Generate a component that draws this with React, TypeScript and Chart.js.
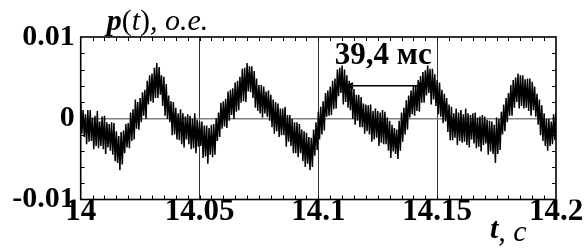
import React, { useEffect, useRef } from "react";
import { Chart, registerables } from "chart.js";

Chart.register(...registerables);

// ---- data ----
const T_START = 14; // s
const T_STEP = 0.001; // s, spacing of the whole-ms samples
// p(t) at whole milliseconds 14.000 .. 14.200 (upper noise swings), 1e-3 o.e.
const P_WHOLE_MS = [
  2.0, 1.0, 0.5, 1.0, 1.0, 0.1, 0.3, 0.9, -0.4, 0.2,
  0.3, -0.5, -0.7, -0.5, -0.6, -1.6, -2.2, -1.7, -1.5, -0.7,
  -0.6, 0.7, 1.1, 2.3, 2.0, 2.5, 3.2, 3.5, 4.6, 5.3,
  5.5, 6.2, 6.8, 6.3, 5.3, 5.1, 4.2, 2.8, 2.1, 2.0,
  1.3, 0.6, 1.1, 0.6, 0.2, 0.5, 0.3, -0.1, 0.6, -0.2,
  -0.4, -0.4, -0.9, -0.9, -1.2, -0.8, -0.7, 0.0, 0.7, 1.9,
  2.1, 2.4, 3.3, 3.5, 3.7, 4.4, 4.6, 5.1, 6.1, 6.2,
  6.8, 6.4, 6.4, 5.8, 4.9, 4.1, 4.1, 3.9, 3.3, 3.4,
  2.9, 2.3, 2.0, 1.8, 1.2, 1.2, 1.4, 0.4, 0.4, -0.1,
  -0.5, -0.5, -0.7, -1.4, -1.6, -1.8, -2.3, -2.4, -1.4, -0.5,
  0.8, 1.4, 2.1, 3.1, 3.4, 3.9, 4.6, 4.9, 6.0, 6.2,
  6.5, 6.0, 5.3, 4.6, 4.2, 3.6, 2.9, 2.9, 2.6, 1.8,
  1.7, 1.6, 1.7, 0.9, 1.2, 0.9, 0.7, 1.0, 0.8, 0.1,
  -0.3, -0.8, -1.2, -1.4, -0.3, 0.7, 1.3, 2.2, 2.8, 3.4,
  4.0, 4.1, 4.7, 5.2, 5.7, 5.9, 6.5, 6.1, 6.1, 5.4,
  4.7, 4.4, 3.5, 3.0, 2.5, 1.7, 1.4, 0.6, 1.2, 0.7,
  1.0, 0.5, 1.2, 0.6, 0.4, 0.6, 0.7, 0.1, 0.2, 0.4,
  0.2, -0.2, -0.3, -0.4, -0.8, 0.1, -0.1, 0.8, 1.7, 2.5,
  3.1, 4.1, 4.7, 5.0, 5.5, 5.3, 5.3, 4.8, 4.9, 4.9,
  4.5, 3.9, 3.0, 2.3, 1.6, 0.6, -0.1, -0.1, -0.4, 0.5, 0.8,
];
// p(t) at the half milliseconds 14.0005 .. 14.1995 (lower noise swings), 1e-3 o.e.
const P_HALF_MS = [
  -1.9, -2.3, -3.2, -2.9, -2.8, -3.8, -3.4, -3.7, -3.4, -3.8,
  -4.4, -3.6, -4.0, -4.5, -5.3, -5.5, -6.4, -5.7, -4.3, -3.6,
  -3.7, -2.8, -2.6, -1.3, -1.4, -0.5, 0.3, -0.1, 1.7, 2.1,
  1.9, 2.5, 2.5, 2.9, 1.5, 0.3, -0.1, -0.5, -2.1, -2.0,
  -2.6, -2.7, -3.2, -3.6, -2.6, -3.2, -3.8, -3.7, -4.3, -3.5,
  -3.4, -4.9, -4.7, -5.6, -4.5, -4.8, -4.5, -2.8, -2.3, -1.3,
  -1.0, -1.2, -0.3, 0.4, -0.1, 0.8, 1.0, 1.9, 2.1, 2.0,
  3.3, 3.2, 2.5, 1.3, 0.9, 0.6, 0.1, 0.6, 0.2, -0.3,
  -1.1, -1.9, -1.6, -2.3, -2.1, -2.1, -3.5, -2.9, -3.4, -4.3,
  -4.3, -4.8, -4.3, -5.3, -6.0, -5.6, -6.4, -6.0, -4.6, -3.9,
  -2.6, -2.0, -1.5, 0.2, 0.3, 0.4, 1.1, 1.2, 2.7, 3.1,
  1.7, 2.0, 1.3, 1.0, -0.1, -0.8, -0.3, -1.1, -1.1, -1.9,
  -1.6, -2.0, -2.9, -2.6, -2.4, -3.4, -3.0, -3.2, -3.2, -4.0,
  -4.9, -4.1, -4.4, -5.0, -4.0, -2.9, -2.0, -1.4, 0.1, 0.5,
  0.3, 0.9, 0.8, 1.9, 1.9, 2.8, 3.1, 1.7, 2.3, 1.5,
  0.5, 0.2, -0.6, -0.4, -1.7, -2.7, -2.7, -2.4, -3.3, -2.8,
  -3.0, -2.9, -3.3, -3.6, -2.6, -3.1, -3.7, -3.5, -4.1, -3.3,
  -3.1, -4.5, -4.1, -4.4, -5.5, -4.4, -3.9, -2.0, -1.6, -0.5,
  0.3, 0.3, 1.3, 2.0, 1.2, 1.5, 1.2, 1.3, 0.9, 0.3,
  1.0, 0.2, -0.8, -2.1, -2.8, -3.4, -4.0, -3.4, -3.2, -2.7,
];
const P_UNIT = 1e-3;

const X_TICKS = [14, 14.05, 14.1, 14.15, 14.2];
const Y_TICKS = [-0.01, 0, 0.01];
const X_MIN = 14;
const X_MAX = 14.2;
const Y_MIN = -0.01;
const Y_MAX = 0.01;
const X_MINOR = 0.005;
const Y_MINOR = 0.002;

// period annotation
const PERIOD_TEXT = "39,4 мс";
const PERIOD_FROM = 14.11;
const PERIOD_TO = 14.147;
const PERIOD_LEVEL = 0.004;
const PERIOD_TEXT_T = 14.1273;
const PERIOD_TEXT_P = 0.0067;

const SERIF = "'Liberation Serif', 'Times New Roman', serif";

const decor = {
  id: "decor",
  afterDraw(chart: any) {
    const { ctx, chartArea: a } = chart;
    const xs = chart.scales.x;
    const ys = chart.scales.y;
    ctx.save();
    ctx.strokeStyle = "#000";
    ctx.fillStyle = "#000";
    // minor ticks (inside)
    ctx.lineWidth = 1;
    ctx.beginPath();
    const nx = Math.round((X_MAX - X_MIN) / X_MINOR);
    for (let k = 1; k < nx; k++) {
      const px = Math.round(xs.getPixelForValue(X_MIN + k * X_MINOR)) + 0.5;
      ctx.moveTo(px, a.top);
      ctx.lineTo(px, a.top + 4);
      ctx.moveTo(px, a.bottom);
      ctx.lineTo(px, a.bottom - 4);
    }
    const ny = Math.round((Y_MAX - Y_MIN) / Y_MINOR);
    for (let k = 1; k < ny; k++) {
      const py = Math.round(ys.getPixelForValue(Y_MIN + k * Y_MINOR)) + 0.5;
      ctx.moveTo(a.left, py);
      ctx.lineTo(a.left + 4, py);
      ctx.moveTo(a.right, py);
      ctx.lineTo(a.right - 4, py);
    }
    ctx.stroke();
    // frame
    ctx.lineWidth = 1.6;
    ctx.strokeRect(a.left, a.top, a.right - a.left, a.bottom - a.top);

    // period arrow
    const x1 = xs.getPixelForValue(PERIOD_FROM);
    const x2 = xs.getPixelForValue(PERIOD_TO);
    const ya = ys.getPixelForValue(PERIOD_LEVEL);
    ctx.lineWidth = 1.5;
    ctx.beginPath();
    ctx.moveTo(x1 + 6, ya);
    ctx.lineTo(x2 - 6, ya);
    ctx.stroke();
    ctx.beginPath();
    ctx.moveTo(x1, ya);
    ctx.lineTo(x1 + 11, ya - 3.5);
    ctx.lineTo(x1 + 11, ya + 3.5);
    ctx.closePath();
    ctx.moveTo(x2, ya);
    ctx.lineTo(x2 - 11, ya - 3.5);
    ctx.lineTo(x2 - 11, ya + 3.5);
    ctx.closePath();
    ctx.fill();

    ctx.textBaseline = "alphabetic";
    ctx.textAlign = "center";
    ctx.font = `bold 31px ${SERIF}`;
    ctx.fillText(
      PERIOD_TEXT,
      xs.getPixelForValue(PERIOD_TEXT_T),
      ys.getPixelForValue(PERIOD_TEXT_P)
    );

    // y axis title
    ctx.textAlign = "left";
    let x = a.left + 26;
    const by = a.top - 7;
    const yParts: [string, string][] = [
      ["bold italic 30px", "p"],
      ["30px", "("],
      ["italic 30px", "t"],
      ["30px", ")"],
      ["italic 30px", ", о.е."],
    ];
    for (const [f, s] of yParts) {
      ctx.font = `${f} ${SERIF}`;
      ctx.fillText(s, x, by);
      x += ctx.measureText(s).width;
    }
    // x axis title
    x = a.right - 66;
    ctx.font = `bold italic 30px ${SERIF}`;
    ctx.fillText("t", x, a.bottom + 38.5);
    x += ctx.measureText("t").width;
    ctx.font = `italic 30px ${SERIF}`;
    ctx.fillText(", с", x, a.bottom + 41.5);
    ctx.restore();
  },
};

export default function App() {
  const ref = useRef<HTMLCanvasElement | null>(null);
  useEffect(() => {
    if (!ref.current) return;
    const data: { x: number; y: number }[] = [];
    P_WHOLE_MS.forEach((v, i) => {
      data.push({ x: T_START + i * T_STEP, y: v * P_UNIT });
      if (i < P_HALF_MS.length) {
        data.push({
          x: T_START + (i + 0.5) * T_STEP,
          y: P_HALF_MS[i] * P_UNIT,
        });
      }
    });
    const chart = new Chart(ref.current, {
      type: "line",
      data: {
        datasets: [
          {
            data,
            borderColor: "#000",
            borderWidth: 1.5,
            borderJoinStyle: "bevel",
            pointRadius: 0,
            tension: 0,
          },
        ],
      },
      options: {
        animation: false,
        responsive: true,
        maintainAspectRatio: false,
        layout: { padding: { top: 37, right: 29, left: 0, bottom: 0 } },
        plugins: { legend: { display: false }, tooltip: { enabled: false } },
        scales: {
          x: {
            type: "linear",
            min: X_MIN,
            max: X_MAX,
            afterBuildTicks: (s: any) => {
              s.ticks = X_TICKS.map((v) => ({ value: v }));
            },
            afterFit: (s: any) => {
              s.height = 48.5;
            },
            border: { display: false },
            grid: {
              drawTicks: false,
              lineWidth: 1,
              color: (c: any) =>
                c.tick && c.tick.value > X_MIN && c.tick.value < X_MAX
                  ? "#333"
                  : "rgba(0,0,0,0)",
            },
            ticks: {
              autoSkip: false,
              maxRotation: 0,
              padding: -6,
              color: "#000",
              font: { family: SERIF, size: 31, weight: "bold" },
              callback: (v: any) => String(Number(Number(v).toFixed(3))),
            },
          },
          y: {
            type: "linear",
            min: Y_MIN,
            max: Y_MAX,
            afterBuildTicks: (s: any) => {
              s.ticks = Y_TICKS.map((v) => ({ value: v }));
            },
            afterFit: (s: any) => {
              s.width = 80.7;
            },
            border: { display: false },
            grid: {
              drawTicks: false,
              lineWidth: 1.5,
              color: (c: any) =>
                c.tick && Math.abs(c.tick.value) < 1e-9
                  ? "#808080"
                  : "rgba(0,0,0,0)",
            },
            ticks: {
              padding: 6,
              color: "#000",
              font: { family: SERIF, size: 30, weight: "bold" },
              callback: (v: any) => {
                const r = Math.round(Number(v) * 100) / 100;
                return r === 0 ? "0" : r.toFixed(2);
              },
            },
          },
        },
      },
      plugins: [decor],
    } as any);
    return () => chart.destroy();
  }, []);
  return (
    <div
      style={{
        position: "fixed",
        left: 0,
        top: 0,
        width: 585,
        height: 248,
        background: "#fff",
      }}
    >
      <canvas ref={ref} />
    </div>
  );
}
